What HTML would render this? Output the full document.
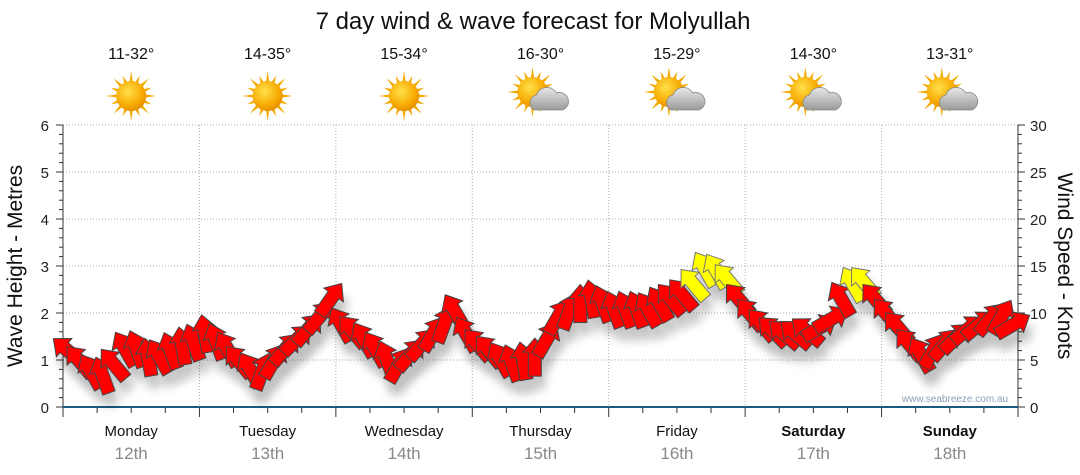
<!DOCTYPE html>
<html><head><meta charset="utf-8"><style>
body{margin:0;background:#fff;font-family:"Liberation Sans","DejaVu Sans",sans-serif}
svg{display:block}
</style></head><body>
<svg id="c" width="1080" height="475" viewBox="0 0 1080 475">
<defs>
<radialGradient id="sg" cx="0.4" cy="0.35" r="0.7"><stop offset="0" stop-color="#ffe14a"/><stop offset="0.7" stop-color="#f7a800"/><stop offset="1" stop-color="#e08a00"/></radialGradient>
<linearGradient id="cg" x1="0" y1="0" x2="0" y2="1"><stop offset="0" stop-color="#e8e8e8"/><stop offset="1" stop-color="#9a9a9a"/></linearGradient>
<filter id="sh" x="-50%" y="-50%" width="200%" height="200%"><feGaussianBlur stdDeviation="5"/></filter>
</defs>
<text x="533" y="29" font-size="24" text-anchor="middle" fill="#111">7 day wind &amp; wave forecast for Molyullah</text>
<g id="grid"></g>
<g id="shadows" opacity="0.25"></g>
<g id="arrows"></g>
<text x="955" y="402" font-size="10" text-anchor="middle" fill="#8aa0b8">www.seabreeze.com.au</text>
<text transform="translate(22,266) rotate(-90)" font-size="21" text-anchor="middle" fill="#111">Wave Height - Metres</text>
<text transform="translate(1058,266) rotate(90)" font-size="21" text-anchor="middle" fill="#111">Wind Speed - Knots</text>
</svg>
<script>
const days=["Monday","Tuesday","Wednesday","Thursday","Friday","Saturday","Sunday"];
const dates=["12th","13th","14th","15th","16th","17th","18th"];
const temps=["11-32°","14-35°","15-34°","16-30°","15-29°","14-30°","13-31°"];
const cloudy=[false,false,false,true,true,true,true];
const waveTicks=[0,1,2,3,4,5,6];
const knotTicks=[0,5,10,15,20,25,30];
const windKnots=[5.9,4.8,3.7,3.3,4.5,6.1,6.1,5.2,5.3,5.9,6.4,6.8,
7.7,6.9,6.1,4.8,3.9,3.7,4.8,6.1,7.1,8.2,9.5,11.4,
8.7,8.0,7.1,6.1,5.0,4.4,5.5,6.6,7.7,8.7,10.1,7.7,
6.6,5.9,5.0,4.6,4.8,5.2,7.1,9.5,10.1,10.9,11.4,10.9,
10.3,10.3,10.3,10.3,10.9,11.4,11.9,13.0,14.6,14.4,13.5,11.4,
9.8,8.7,8.0,7.7,7.7,8.0,8.4,9.3,11.4,13.0,13.2,11.4,
9.8,8.4,6.6,5.5,5.9,6.6,7.3,8.2,8.7,9.3,9.5,8.7];
const windDir=[-50,-40,-30,-20,-40,-30,-20,-10,-30,-20,-10,-20,
-10,-20,-30,-40,-30,20,30,40,45,40,40,35,
-30,-40,-30,-30,-20,30,40,40,30,20,-30,-30,
-40,-40,-30,-20,-10,0,30,30,20,0,-10,-20,
-20,-20,-20,-30,-30,-40,-40,-40,-30,-30,-40,-40,
-40,-40,-45,-50,-50,-50,60,60,-30,-30,-40,-40,
-40,-40,-40,-30,30,40,45,50,50,40,30,60];
const yellowAbove=12;

const NS="http://www.w3.org/2000/svg";
const X0=63,X1=1018,Y0=407,Y1=125,dayW=(X1-X0)/7;
const yW=v=>Y0-(v/6)*(Y0-Y1);
const yK=v=>Y0-(v/30)*(Y0-Y1);
const xSlot=i=>X0+(i+0.5)*dayW/12;
function mk(t,a,p){const e=document.createElementNS(NS,t);for(const k in a)e.setAttribute(k,a[k]);(p||document.getElementById('c')).appendChild(e);return e;}
const g=document.getElementById('grid');
waveTicks.forEach((v,i)=>{
 if(v>0){const l=mk('line',{x1:X0,x2:X1,y1:yW(v),y2:yW(v),stroke:'#aaa','stroke-dasharray':'1,2'},g);
 
 }
 const t=mk('text',{x:X0-14,y:yW(v)+6,'font-size':15,'text-anchor':'end',fill:'#222'},g);t.textContent=v;
 
 
});
knotTicks.forEach(v=>{
 const t=mk('text',{x:X1+12,y:yK(v)+6,'font-size':15,fill:'#222'},g);t.textContent=v;
 
 
});
for(let i=0;i<=30;i++){const y=Y0-i*(Y0-Y1)/30;mk('line',{x1:X0-(i%5?4:7),x2:X0,y1:y,y2:y,stroke:'#333'},g);mk('line',{x1:X1,x2:X1+(i%5?4:7),y1:y,y2:y,stroke:'#333'},g);}
mk('line',{x1:X0,x2:X0,y1:Y1,y2:Y0,stroke:'#333'},g);
mk('line',{x1:X1,x2:X1,y1:Y1,y2:Y0,stroke:'#333'},g);
for(let d=1;d<7;d++){const x=X0+d*dayW;const l=mk('line',{x1:x,x2:x,y1:Y1,y2:Y0,stroke:'#aaa','stroke-dasharray':'1,2'},g);
 
 }
for(let q=0;q<=28;q++){const x=X0+q*dayW/4;mk('line',{x1:x,x2:x,y1:Y0,y2:Y0+(q%4?6:10),stroke:'#333'},g);}
const ax=mk('line',{x1:X0,x2:X1,y1:Y0,y2:Y0,stroke:'#1a5a80','stroke-width':2},g);


days.forEach((d,i)=>{
 const cx=X0+(i+0.5)*dayW;
 const t=mk('text',{x:cx,y:436,'font-size':15,'text-anchor':'middle',fill:'#111','font-weight':i>=5?'bold':'normal'},g);t.textContent=d;
 
 
 const t2=mk('text',{x:cx,y:459,'font-size':17,'text-anchor':'middle',fill:'#888'},g);t2.textContent=dates[i];
 
 
 const t3=mk('text',{x:cx,y:59,'font-size':16,'text-anchor':'middle',fill:'#111'},g);t3.textContent=temps[i];
 
 
 const ic=mk('g',{transform:`translate(${cx},${96})`},g);
 
 
 const sx=cloudy[i]?-8:0,sy=cloudy[i]?-4:0;
 for(let r=0;r<16;r++){const a=r*Math.PI/8;const L=r%2?22:25;
  mk('polygon',{points:`${sx+Math.cos(a-0.12)*14},${sy+Math.sin(a-0.12)*14} ${sx+Math.cos(a)*L},${sy+Math.sin(a)*L} ${sx+Math.cos(a+0.12)*14},${sy+Math.sin(a+0.12)*14}`,fill:'#f2a900'},ic);}
 mk('circle',{cx:sx,cy:sy,r:15,fill:'url(#sg)'},ic);
 if(cloudy[i]){
  mk('path',{d:'M-6,14 a8,8 0 0 1 2,-15 a11,11 0 0 1 20,-2 a8,8 0 0 1 6,17 z',fill:'url(#cg)',stroke:'#888','stroke-width':0.8},ic);
 }
});
const ag=document.getElementById('arrows'),sg=document.getElementById('shadows');
const shape='M0,-20 L12,-6 L6.5,-6 L6.5,18 L-6.5,18 L-6.5,-6 L-12,-6 Z';
windKnots.forEach((k,i)=>{
 const x=xSlot(i),y=yK(k);
 const s=mk('path',{d:shape,fill:'#000',filter:'url(#sh)',transform:`translate(${x+4},${y+12}) rotate(${windDir[i]})`},sg);
 
 
 const a=mk('path',{d:shape,fill:k>=yellowAbove?'#ffff00':'#ff0000',stroke:k>=yellowAbove?'#777':'#444','stroke-width':1,transform:`translate(${x},${y}) rotate(${windDir[i]})`},ag);
 
 
});
</script>
</body></html>
